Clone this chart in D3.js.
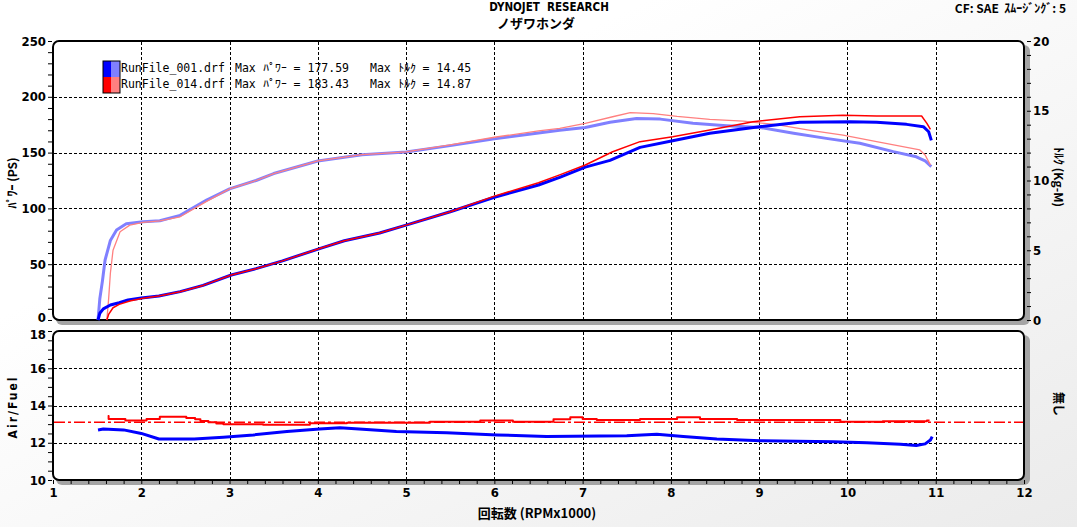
<!DOCTYPE html>
<html><head><meta charset="utf-8">
<script src="https://cdn.jsdelivr.net/npm/d3@7"></script>
<style>
body{margin:0;overflow:hidden;background:#fff;}
svg{display:block;}
text{white-space:pre;}
</style>
</head><body>
<svg id="c" width="1077" height="527"></svg>
<script>
// ---------------- DATA ----------------
const titleText = "DYNOJET  RESEARCH";
const subtitleText = "ノザワホンダ";
const infoText = "CF: SAE  ｽﾑｰｼﾞﾝｸﾞ: 5";
const xLabel = "回転数 (RPMx1000)";
const powerLabel = "ﾊﾟﾜｰ (PS)";
const torqueLabel = "ﾄﾙｸ (Kg-M)";
const afrLabel = "Air/Fuel";
const rightAfrLabel = "無し";

const rpmTicks = [1,2,3,4,5,6,7,8,9,10,11,12];
const powerTicks = [0,50,100,150,200,250];
const torqueTicks = [0,5,10,15,20];
const afrTicks = [10,12,14,16,18];

const runNames = ["RunFile_001.drf","RunFile_014.drf"];
const maxPower = ["177.59","183.43"];
const maxTorque = ["14.45","14.87"];

// Run 001 power (PS)
const bluePowerRpm = [1.51,1.53,1.57,1.65,1.75,1.85,2.0,2.2,2.44,2.7,3.02,3.3,3.6,4.02,4.3,4.7,5.0,5.5,6.0,6.5,6.74,7.03,7.31,7.65,8.02,8.44,9.0,9.46,10.03,10.33,10.67,10.86,10.92,10.95];
const bluePower    = [0,6,10,13.4,15.5,18,19.8,21.5,25.4,31,40.3,46,53,64,71,78,85,97,110,121,127.8,137,143,154.7,160.7,167.3,173.2,177.1,177.6,177.1,175.3,173.2,168.7,161];
// Run 014 power (PS)
const redPowerRpm = [1.61,1.63,1.68,1.75,1.87,2.02,2.2,2.44,2.7,3.02,3.3,3.6,4.02,4.3,4.7,5.0,5.5,6.0,6.5,6.74,7.03,7.34,7.65,8.02,8.44,8.93,9.46,9.95,10.33,10.84,10.9,10.94];
const redPower    = [0,5,11,14,17,19.4,21.5,25.4,31,40.3,46,53,64,71,78,85,97,111,123,130,138.9,150.8,159.8,164.3,170.3,177.7,182.2,183.4,182.8,182.8,176.2,170.9];
// Run 001 torque (kg-m)
const blueTorqueRpm = [1.51,1.53,1.56,1.59,1.65,1.72,1.83,2.02,2.21,2.44,2.74,3.0,3.3,3.5,4.0,4.5,5.0,5.5,6.0,6.5,6.74,7.03,7.31,7.61,7.88,8.25,8.63,9.01,9.39,9.76,10.14,10.52,10.78,10.88,10.95];
const blueTorque    = [0,1.5,2.8,4.3,5.7,6.45,6.9,7.05,7.12,7.5,8.6,9.4,10.0,10.5,11.4,11.85,12.05,12.5,13.0,13.4,13.6,13.8,14.17,14.45,14.4,14.1,13.93,13.8,13.38,13.02,12.67,12.07,11.7,11.4,11.0];
// Run 014 torque (kg-m)
const redTorqueRpm = [1.61,1.63,1.65,1.68,1.76,1.87,2.02,2.21,2.44,2.74,3.0,3.3,3.5,4.0,4.5,5.0,5.5,6.0,6.5,6.74,7.03,7.34,7.54,7.8,8.07,8.44,8.82,9.2,9.58,9.95,10.33,10.82,10.88,10.94];
const redTorque    = [0,1.5,3.35,5.0,6.33,6.8,7.0,7.1,7.4,8.5,9.4,10.0,10.5,11.4,11.85,12.05,12.55,13.1,13.55,13.74,14.1,14.57,14.87,14.8,14.6,14.38,14.26,14.0,13.6,13.26,12.78,12.19,11.83,11.1];
// Air/Fuel
const blueAfrRpm = [1.51,1.57,1.8,2.0,2.2,2.6,2.93,3.27,3.65,4.02,4.25,4.51,4.89,5.46,6.03,6.59,7.5,7.84,8.14,8.52,9.01,9.84,10.22,10.6,10.78,10.88,10.94,10.96];
const blueAfr    = [12.69,12.74,12.69,12.5,12.2,12.2,12.3,12.42,12.6,12.74,12.81,12.72,12.6,12.54,12.42,12.33,12.38,12.46,12.33,12.2,12.11,12.06,12.0,11.92,11.85,11.94,12.15,12.33];
const redAfrRpm = [1.62,1.63,1.82,2.06,2.21,2.51,2.61,2.67,2.76,2.85,2.93,3.38,3.91,4.33,5.27,5.84,6.21,6.67,6.86,7.0,7.16,7.65,8.07,8.33,8.75,9.92,10.4,10.9,10.93];
const redAfr    = [13.44,13.28,13.19,13.28,13.4,13.33,13.26,13.17,13.1,13.03,12.99,12.96,13.05,13.08,13.13,13.19,13.13,13.26,13.37,13.28,13.22,13.28,13.37,13.28,13.22,13.13,13.15,13.19,13.19];
const afrReference = 13.1;

// ---------------- DRAW ----------------
const svg = d3.select("#c");
const W = 1077, H = 527;
const NUM = "'DejaVu Sans Condensed','DejaVu Sans',sans-serif";
const JP = "'Noto Sans CJK JP','DejaVu Sans',sans-serif";

const defs = svg.append("defs");
const bg = defs.append("linearGradient").attr("id","bg").attr("x1","0").attr("y1","0").attr("x2","1").attr("y2","1");
bg.append("stop").attr("offset","0.3").attr("stop-color","#ffffff");
bg.append("stop").attr("offset","1").attr("stop-color","#ebebeb");
svg.append("rect").attr("width",W).attr("height",H).attr("fill","url(#bg)");

const x = d3.scaleLinear().domain([1,12]).range([53,1024]);
const yP = d3.scaleLinear().domain([0,250]).range([320,41]);
const yT = d3.scaleLinear().domain([0,20]).range([320,41]);
const yA = d3.scaleLinear().domain([10,18]).range([480,331]);

function panel(y0,y1){
  svg.append("rect").attr("x",x(1)+3).attr("y",y0+4).attr("width",x(12)-x(1)+3).attr("height",y1-y0+1)
    .attr("rx",6).attr("fill","#a4a4a4");
  svg.append("rect").attr("x",x(1)).attr("y",y0).attr("width",x(12)-x(1)).attr("height",y1-y0)
    .attr("rx",6).attr("fill","#fff").attr("stroke","#000").attr("stroke-width",2);
}
panel(yP(250), yP(0));
panel(yA(18), yA(10));

// gridlines
const grid = svg.append("g").attr("stroke","#000").attr("stroke-width",1).attr("stroke-dasharray","3,2");
rpmTicks.slice(1,-1).forEach(r=>{
  grid.append("line").attr("x1",Math.round(x(r))+0.5).attr("x2",Math.round(x(r))+0.5).attr("y1",yP(250)+1).attr("y2",yP(0)-1);
  grid.append("line").attr("x1",Math.round(x(r))+0.5).attr("x2",Math.round(x(r))+0.5).attr("y1",yA(18)+1).attr("y2",yA(10)-1);
});
powerTicks.slice(1,-1).forEach(p=>{
  grid.append("line").attr("x1",x(1)+1).attr("x2",x(12)-1).attr("y1",Math.round(yP(p))+0.5).attr("y2",Math.round(yP(p))+0.5);
});
afrTicks.slice(1,-1).forEach(a=>{
  grid.append("line").attr("x1",x(1)+1).attr("x2",x(12)-1).attr("y1",Math.round(yA(a))+0.5).attr("y2",Math.round(yA(a))+0.5);
});

// axes (ticks + labels)
function styleAxis(g){
  g.select(".domain").remove();
  g.selectAll("text").attr("font-family",NUM).attr("font-weight","bold").attr("font-size",13).attr("fill","#000");
  g.selectAll("line").attr("stroke","#000");
}
svg.append("g").attr("transform",`translate(${x(1)-1},0)`)
  .call(d3.axisLeft(yP).tickValues(d3.range(0,251,10)).tickSize(4).tickPadding(2).tickFormat(d=>d%50===0?d:""))
  .call(styleAxis)
  .selectAll("text").filter(d=>d===0).attr("dy","0.1em");
svg.append("g").attr("transform",`translate(${x(12)+3},0)`)
  .call(d3.axisRight(yT).tickValues(d3.range(0,21,1)).tickSize(4).tickPadding(2).tickFormat(d=>d%5===0?d:""))
  .call(styleAxis);
svg.append("g").attr("transform",`translate(${x(1)-1},0)`)
  .call(d3.axisLeft(yA).tickValues(d3.range(10,18.01,0.5)).tickSize(4).tickPadding(2).tickFormat(d=>d%2===0?d:""))
  .call(styleAxis)
  .selectAll("text").filter(d=>d===18).attr("dy","0.55em");
svg.append("g").attr("transform",`translate(0,${yA(10)})`)
  .call(d3.axisBottom(x).tickValues(d3.range(1,12.01,0.2).map(v=>+v.toFixed(1))).tickSize(4).tickPadding(4).tickFormat(d=>Number.isInteger(d)?d:""))
  .call(styleAxis);

// lines
function path(xs, ys, yScale, color, width, curve){
  const pts = xs.map((r,i)=>[r, ys[i]]);
  svg.append("path").datum(pts)
    .attr("d", d3.line().x(d=>x(d[0])).y(d=>yScale(d[1])).curve(curve||d3.curveLinear))
    .attr("fill","none").attr("stroke",color).attr("stroke-width",width).attr("stroke-linejoin","round");
}
path(blueTorqueRpm, blueTorque, yT, "#8080ff", 3);
path(redTorqueRpm, redTorque, yT, "#ff8080", 1.3);
path(bluePowerRpm, bluePower, yP, "#0000ff", 3);
path(redPowerRpm, redPower, yP, "#ff0000", 1.5);

// AFR reference line
svg.append("line").attr("x1",x(1)+1).attr("x2",x(12)-1).attr("y1",yA(afrReference)).attr("y2",yA(afrReference))
  .attr("stroke","#ff0000").attr("stroke-width",1.5).attr("stroke-dasharray","11,3,3,3");
path(blueAfrRpm, blueAfr, yA, "#0000ff", 3);
path(redAfrRpm, redAfr, yA, "#ff0000", 2, d3.curveStepAfter);

// legend
const legColors = [["#0000ff","#8080ff"],["#ff0000","#ff8080"]];
const leg = svg.append("g");
runNames.forEach((n,i)=>{
  const y0 = 61 + i*16;
  leg.append("rect").attr("x",103).attr("y",y0).attr("width",8.5).attr("height",16).attr("fill",legColors[i][0]);
  leg.append("rect").attr("x",111.5).attr("y",y0).attr("width",8.5).attr("height",16).attr("fill",legColors[i][1]);
  const t = (s,xx)=>leg.append("text").attr("x",xx).attr("y",y0+11).attr("font-family","'DejaVu Sans Mono',monospace")
      .attr("font-size",11.5).attr("fill","#000").text(s);
  t(n,121);
  t("Max ﾊﾟﾜｰ = "+maxPower[i],235);
  t("Max ﾄﾙｸ = "+maxTorque[i],370);
});
leg.append("rect").attr("x",103).attr("y",61).attr("width",17).attr("height",32).attr("fill","none").attr("stroke","#000").attr("stroke-width",1);

// titles
svg.append("text").attr("x",549).attr("y",11).attr("text-anchor","middle").attr("font-family",NUM).attr("font-weight","bold")
  .attr("font-size",11.5).text(titleText);
svg.append("text").attr("x",536).attr("y",28).attr("text-anchor","middle").attr("font-family",JP).attr("font-weight","bold")
  .attr("font-size",13).text(subtitleText);
svg.append("text").attr("x",1066).attr("y",13).attr("text-anchor","end").attr("font-family",JP).attr("font-weight","bold")
  .attr("font-size",12).text(infoText);
svg.append("text").attr("x",537).attr("y",518).attr("text-anchor","middle").attr("font-family",JP).attr("font-weight","bold")
  .attr("font-size",13).text(xLabel);
svg.append("text").attr("transform","translate(17,183) rotate(-90)").attr("text-anchor","middle").attr("font-family",JP)
  .attr("font-weight","bold").attr("font-size",12).text(powerLabel);
svg.append("text").attr("transform","translate(17,407) rotate(-90)").attr("text-anchor","middle").attr("font-family",NUM)
  .attr("font-weight","bold").attr("font-size",12).attr("letter-spacing",2).text(afrLabel);
svg.append("text").attr("transform","translate(1054,177) rotate(90)").attr("text-anchor","middle").attr("font-family",JP)
  .attr("font-weight","bold").attr("font-size",12).text(torqueLabel);
svg.append("text").attr("transform","translate(1054,404) rotate(90)").attr("text-anchor","middle").attr("font-family",JP)
  .attr("font-weight","bold").attr("font-size",12).text(rightAfrLabel);
</script>
</body></html>
